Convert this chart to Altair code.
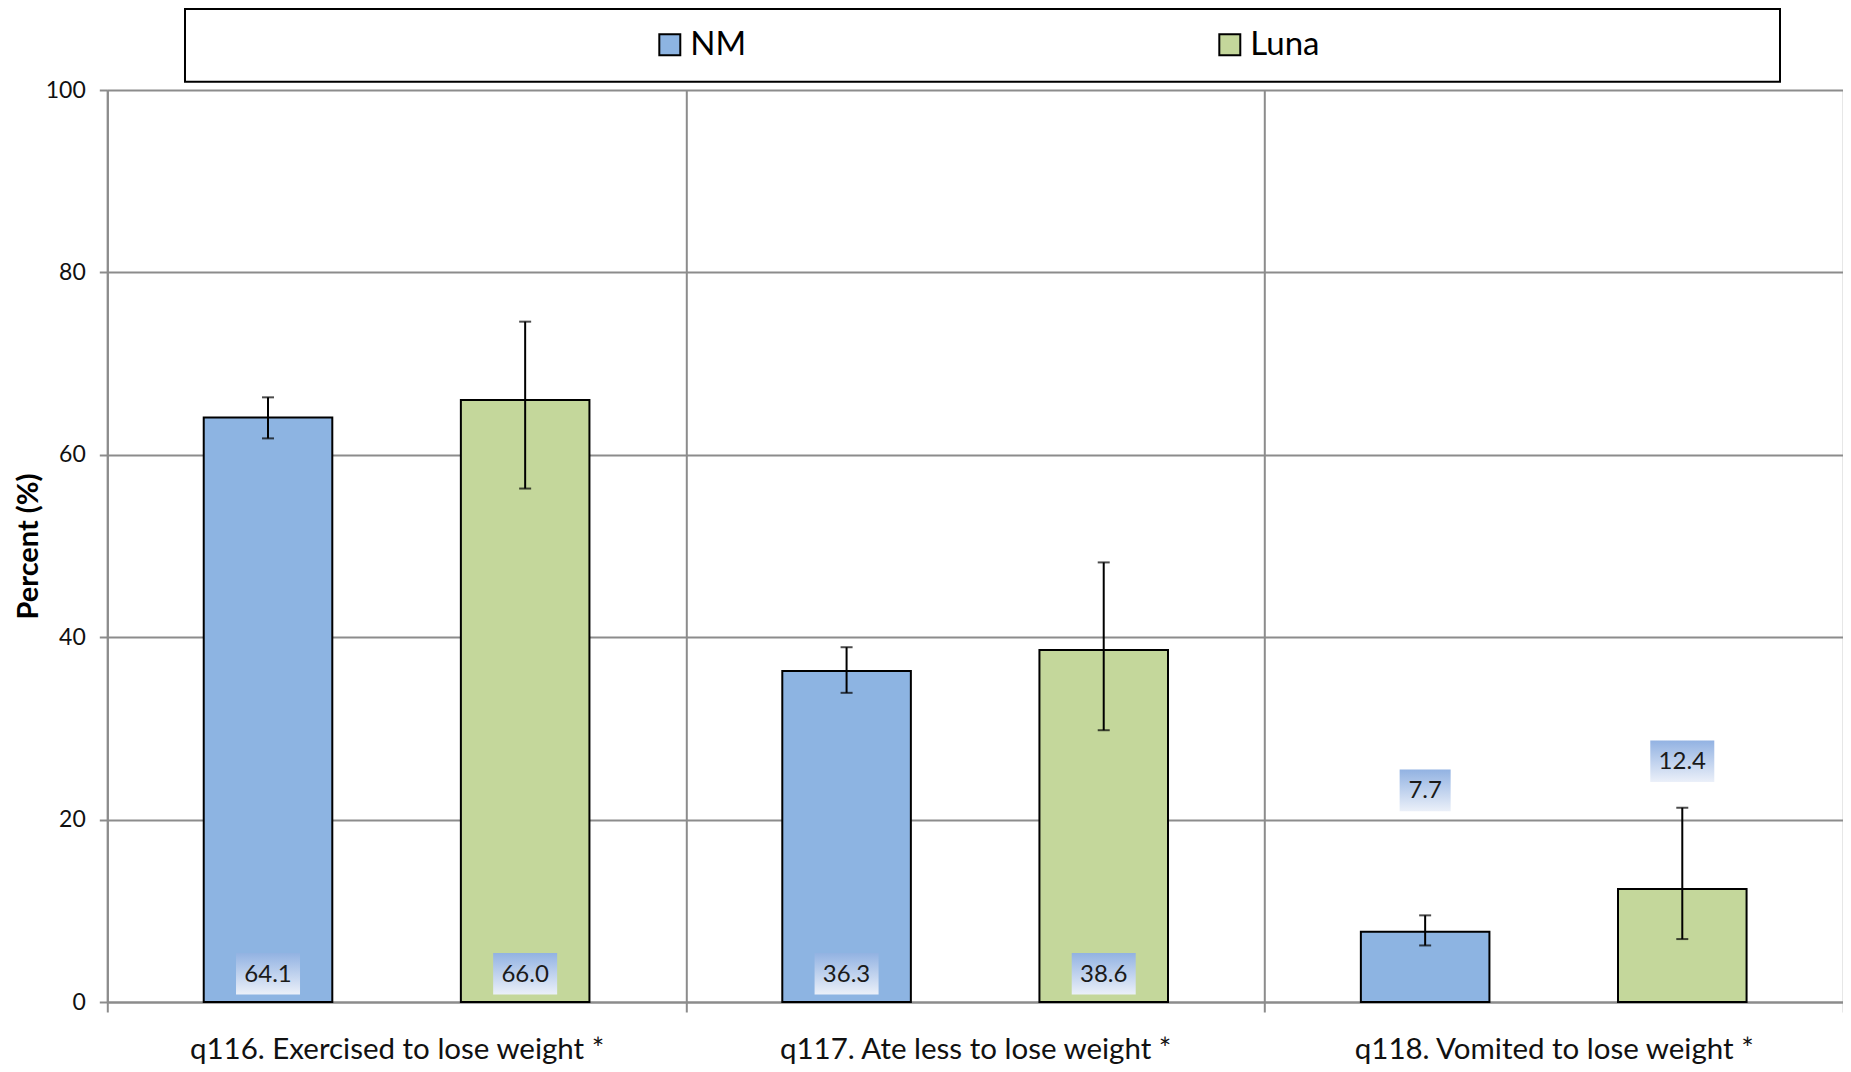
import altair as alt
import pandas as pd

categories = [
    "q116. Exercised to lose weight *",
    "q117. Ate less to lose weight *",
    "q118. Vomited to lose weight *",
]
groups = ["NM", "Luna"]
nm_values = [64.1, 36.3, 7.7]
luna_values = [66.0, 38.6, 12.4]
nm_lower = [61.8, 33.9, 6.2]
nm_upper = [66.3, 38.9, 9.5]
luna_lower = [56.3, 29.8, 6.9]
luna_upper = [74.6, 48.2, 21.3]
nm_label_pos = [3.1, 3.1, 23.2]
luna_label_pos = [3.1, 3.1, 26.4]
y_ticks = [0, 20, 40, 60, 80, 100]
colors = ["#8DB4E2", "#C4D79B"]

rows = []
for i, cat in enumerate(categories):
    for g, vals, lo, hi, lp in [
        ("NM", nm_values, nm_lower, nm_upper, nm_label_pos),
        ("Luna", luna_values, luna_lower, luna_upper, luna_label_pos),
    ]:
        rows.append(dict(category=cat, group=g, value=vals[i], lower=lo[i],
                         upper=hi[i], label_pos=lp[i], label=f"{vals[i]:.1f}"))
df = pd.DataFrame(rows)

FONT = "Lato"
GRAY = "#8c8c8c"

x_axis = alt.Axis(title=None, tickBand="extent", labelFontSize=29.5, labelPadding=46,
                  labelBaseline="alphabetic",
                  tickSize=10, labelAngle=0, grid=True, labelColor="#111111",
                  labelFont=FONT, labelLimit=1000)
x_enc = alt.X("category:N", sort=categories,
              scale=alt.Scale(paddingInner=0, paddingOuter=0), axis=x_axis)
xoff = alt.XOffset("group:N", sort=groups,
                   scale=alt.Scale(domain=groups, paddingInner=0.5, paddingOuter=0.375))
y_scale = alt.Scale(domain=[0, 100], nice=False)
y_axis = alt.Axis(title="Percent (%)", values=y_ticks, tickSize=8, labelPadding=14,
                  labelFontSize=23, labelFont=FONT, labelColor="#111111",
                  titleFont=FONT, titleFontSize=29, titleFontWeight="bold",
                  titleColor="#000000", titleAngle=-90, titleX=-79, titleY=456,
                  titleAlign="center", titleBaseline="middle", grid=True)

base = alt.Chart(df)

legend_box = alt.Chart(pd.DataFrame({"k": [0]})).mark_rect(
    fill="white", stroke="black", strokeWidth=2
).encode(x=alt.value(77.7), x2=alt.value(1672.7), y=alt.value(-81), y2=alt.value(-8.3))

bars = base.mark_bar(stroke="black", strokeWidth=2).encode(
    x=x_enc,
    xOffset=xoff,
    y=alt.Y("value:Q", scale=y_scale, axis=y_axis),
    color=alt.Color(
        "group:N", sort=groups,
        scale=alt.Scale(domain=groups, range=colors),
        legend=alt.Legend(
            title=None, orient="none", legendX=546, legendY=-62,
            direction="horizontal", columnPadding=467, padding=0,
            symbolType="square", symbolSize=440, symbolStrokeColor="black",
            symbolStrokeWidth=2, symbolOpacity=1, labelFont=FONT,
            labelFontSize=33, labelColor="#000000", labelOffset=4,
        ),
    ),
)

rule = base.mark_rule(color="black", strokeWidth=2).encode(
    x=x_enc, xOffset=xoff,
    y=alt.Y("lower:Q", scale=y_scale, axis=y_axis), y2="upper:Q",
)
cap_lo = base.mark_tick(color="black", thickness=2, size=12).encode(
    x=x_enc, xOffset=xoff, y=alt.Y("lower:Q", scale=y_scale, axis=y_axis)
)
cap_hi = base.mark_tick(color="black", thickness=2, size=12).encode(
    x=x_enc, xOffset=xoff, y=alt.Y("upper:Q", scale=y_scale, axis=y_axis)
)

grad = alt.LinearGradient(
    gradient="linear",
    stops=[alt.GradientStop(color="#92b2e2", offset=0),
           alt.GradientStop(color="#ebf0f9", offset=1)],
    x1=0, x2=0, y1=0, y2=1,
)

def boxes(nchar, w):
    return base.transform_filter(f"length(datum.label) == {nchar}").transform_calculate(
        box_lo="datum.label_pos - 2.28", box_hi="datum.label_pos + 2.28"
    ).mark_bar(width=w, fill=grad, strokeWidth=0).encode(
        x=x_enc, xOffset=xoff,
        y=alt.Y("box_lo:Q", scale=y_scale, axis=y_axis), y2="box_hi:Q",
    )

box4 = boxes(4, 64)
box3 = boxes(3, 51)

text = base.mark_text(font=FONT, fontSize=24, color="#1a1a1a", baseline="middle", dy=1).encode(
    x=x_enc, xOffset=xoff,
    y=alt.Y("label_pos:Q", scale=y_scale, axis=y_axis), text="label:N",
)

chart = alt.layer(legend_box, bars, rule, cap_lo, cap_hi, box4, box3, text).properties(
    width=1735.7, height=912,
    autosize=alt.AutoSizeParams(type="none"),
    padding={"left": 99.3, "top": 82, "right": 0, "bottom": 62},
).configure_view(stroke=None).configure_axis(
    domainColor=GRAY, domainWidth=2, tickColor=GRAY, tickWidth=2,
    gridColor=GRAY, gridWidth=2,
)

chart.save("out.html", embed_options={"renderer": "svg", "actions": False})
